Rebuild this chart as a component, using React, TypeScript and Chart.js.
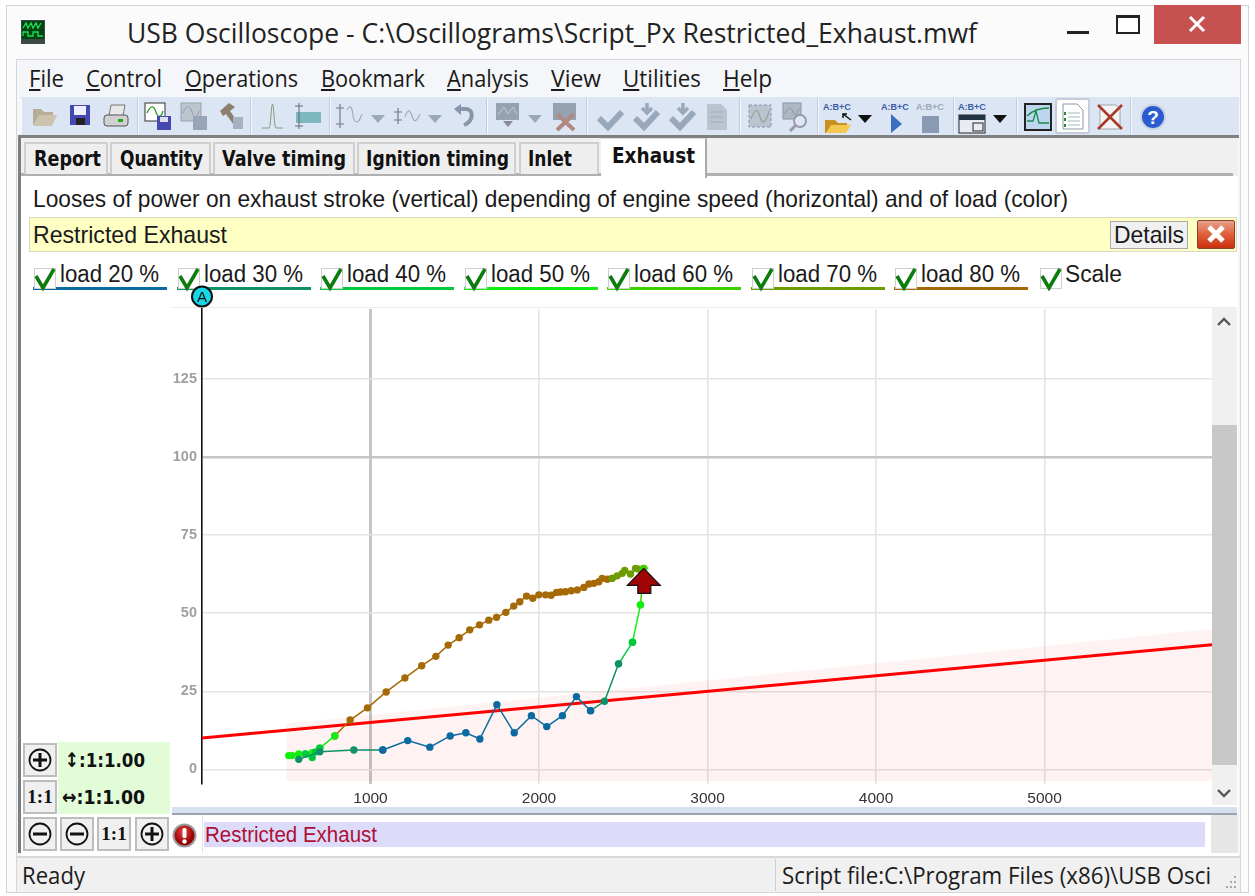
import React, { useEffect, useRef } from "react";
import { Chart, registerables } from "chart.js";

Chart.register(...registerables);

// ---------- data ----------
const seriesNames = ["load 20 %", "load 30 %", "load 40 %", "load 50 %", "load 60 %", "load 70 %", "load 80 %"];
const seriesColors = ["#0b6aa0", "#0f9068", "#00c93c", "#12ee12", "#3fd000", "#6c9c00", "#a56a06"];

const rpm20 = [1073, 1221, 1352, 1473, 1566, 1649, 1750, 1853, 1955, 2046, 2139, 2222, 2306];
const pow20 = [6.2, 9.2, 7.1, 10.7, 11.7, 9.7, 20.7, 11.7, 17.2, 13.7, 17.2, 23.3, 18.8];

const rpm30 = [574, 699, 901, 1073, 1073, 2306, 2389, 2472];
const pow30 = [3.2, 5.6, 6.2, 6.2, null, 18.8, 21.8, 33.8];

const rpm40 = [614, 654, 674, 699, 699, 2472, 2555];
const pow40 = [4.9, 3.8, 5.6, 6.8, null, 33.8, 40.7];

const rpm50 = [515, 535, 574, 614, 654, 654, 699, 788, 788, 2555, 2602];
const pow50 = [4.4, 4.4, 4.9, 4.9, 5.3, null, 6.8, 10.7, null, 40.7, 52.7];

const rpm60 = [2602, 2622];
const pow60 = [52.7, 64.4];

const rpm70 = [2434, 2464, 2494, 2509, 2543, 2573, 2592, 2622];
const pow70 = [61.2, 62, 62.8, 63.7, 62.6, 64.4, 64.1, 64.4];

const rpm80 = [788, 879, 982, 1093, 1204, 1304, 1388, 1461, 1526, 1589, 1647, 1702, 1748, 1803, 1850, 1886, 1926, 1963, 1999, 2039, 2072, 2104, 2128, 2157, 2191, 2227, 2266, 2296, 2325, 2355, 2375, 2405, 2434];
const pow80 = [10.7, 15.8, 19.7, 24.8, 29.3, 33.2, 36.2, 39.8, 42.2, 44.7, 46.3, 47.8, 48.7, 50.3, 52.3, 53.7, 55.5, 54.8, 55.9, 55.9, 55.8, 56.7, 56.8, 56.9, 57.2, 57.5, 58.3, 59.4, 59.6, 60.1, 61.2, 60.9, 61.2];

const scaleRpm = [0, 5994];
const scalePow = [10, 39.9];
const bandRpm = [500, 5994];
const bandTop = [14.7, 45];
const bandFloor = -3.7;

const peakRpm = 2622;
const peakPow = 64.4;

const xTicks = [1000, 2000, 3000, 4000, 5000];
const yTicks = [0, 25, 50, 75, 100, 125];
const strongX = 1000;
const strongY = 100;

const allRpm = [rpm20, rpm30, rpm40, rpm50, rpm60, rpm70, rpm80];
const allPow = [pow20, pow30, pow40, pow50, pow60, pow70, pow80];

const zip = (xs: number[], ys: (number | null)[]) => xs.map((x, i) => ({ x, y: ys[i] }));

// ---------- text helper ----------
const meas = document.createElement("canvas").getContext("2d")!;
const SEGOE = '"Open Sans", "Noto Sans", sans-serif';
const ARIAL = '"Liberation Sans", Arial, sans-serif';
const TAHOMA = '"DejaVu Sans", sans-serif';

function T({ x, cy, w, size, font = ARIAL, weight = 400, color = "#1a1a1a", text, ul = false }: any) {
  meas.font = `${weight} ${size}px ${font}`;
  const m = meas.measureText(text).width;
  const lh = Math.round(size * 1.3);
  return (
    <div
      style={{
        position: "absolute", left: x, top: cy - lh / 2, height: lh, lineHeight: `${lh}px`,
        fontFamily: font, fontSize: size, fontWeight: weight, color, whiteSpace: "pre",
        transformOrigin: "0 50%", transform: w ? `scaleX(${w / m})` : undefined,
      }}
    >
      {ul ? (<><u>{text[0]}</u>{text.slice(1)}</>) : text}
    </div>
  );
}

const Box = ({ x, y, w, h, bg, style }: any) => (
  <div style={{ position: "absolute", left: x, top: y, width: w, height: h, background: bg, boxSizing: "border-box", ...style }} />
);

const Svg = ({ x, y, w, h, children }: any) => (
  <svg style={{ position: "absolute", left: x, top: y }} width={w} height={h} viewBox={`0 0 ${w} ${h}`}>
    {children}
  </svg>
);

// ---------- toolbar icons ----------
const G = "#9aa8bb";
const Drop = ({ x, c = G }: any) => (
  <Svg x={x} y={113} w={16} h={11}><path d="M1 2 H15 L8 10 Z" fill={c} /></Svg>
);
const Sep = ({ x }: any) => <Box x={x} y={98} w={2} h={36} bg="#f5f8fc" style={{ borderLeft: "1px solid #c2cbd8" }} />;
const Tools = () => (
  <>
    <Box x={20} y={98} w={2} h={36} bg="#f5f8fc" />
    <Svg x={32} y={101} w={26} h={26}><path d="M1 8 H9 L12 11 H21 V14 H7 L2 24 H1 Z" fill="#b5ad98" /><path d="M7 14 H25 L20 25 H2 Z" fill="#cbc3ab" /></Svg>
    <Svg x={69} y={104} w={22} h={22}><rect x={1} y={1} width={20} height={20} fill="#4448b0" /><rect x={5} y={2} width={12} height={9} fill="#eef" /><rect x={7} y={14} width={9} height={7} fill="#222" /></Svg>
    <Svg x={103} y={104} w={26} h={24}><path d="M8 1 H22 L20 12 H6 Z" fill="#e8e8e8" stroke="#777" /><rect x={1} y={11} width={24} height={11} rx={3} fill="#d0d0d0" stroke="#555" /><rect x={15} y={15} width={5} height={3} fill="#2a2" /></Svg>
    <Sep x={137} />
    <Svg x={144} y={102} w={28} h={28}><rect x={1} y={1} width={20} height={18} fill="#fff" stroke="#333" /><path d="M3 11 C7 2 10 4 12 10 S17 16 19 9" stroke="#2a9a2a" fill="none" strokeWidth={1.3} /><rect x={13} y={14} width={14} height={14} fill="#4448b0" /><rect x={16} y={15} width={8} height={5} fill="#dde" /></Svg>
    <Svg x={180} y={102} w={28} h={28}><rect x={1} y={1} width={20} height={18} fill="#bcc5ce" stroke="#98a3b0" /><path d="M3 11 C7 2 10 4 12 10 S17 16 19 9" stroke="#99a" fill="none" /><rect x={13} y={14} width={14} height={14} fill="#98a5b6" /></Svg>
    <Svg x={218} y={102} w={26} h={28}><path d="M2 9 L11 1 L17 5 L12 9 L24 26 H18 L8 12 L5 14 Z" fill="#8d7f6e" /><rect x={15} y={15} width={10} height={12} fill="#a6b1c1" /></Svg>
    <Sep x={250} />
    <Svg x={261} y={103} w={24} h={26}><path d="M1 25 H8 C10 24 10 2 11.5 1 C13 2 13 24 15 25 H22" stroke="#7fa080" fill="none" strokeWidth={1} /></Svg>
    <Svg x={293} y={102} w={30} h={28}><rect x={3} y={10} width={25} height={11} fill="#7db8be" /><path d="M6 1 V27 M2 4 H10 M2 24 H10" stroke="#667" /></Svg>
    <Sep x={329} />
    <Svg x={335} y={102} w={28} h={28}><path d="M5 2 V26 M1 6 H9 M1 22 H9" stroke="#778" strokeWidth={1.2} /><path d="M12 8 C15 2 17 5 18 13 S23 24 27 12" stroke={G} fill="none" strokeWidth={1.1} /></Svg>
    <Drop x={370} />
    <Svg x={393} y={102} w={28} h={28}><path d="M5 6 V22 M1 10 H9 M1 18 H9" stroke="#778" strokeWidth={1.2} /><path d="M12 15 C15 6 17 8 19 14 S23 21 27 12" stroke={G} fill="none" strokeWidth={1.1} /></Svg>
    <Drop x={427} />
    <Svg x={453} y={104} w={22} h={24}><path d="M3 5 H13 C21 5 21 17 11 21" stroke="#8796aa" fill="none" strokeWidth={4} /><path d="M1 5 L8 0 V11 Z" fill="#8796aa" /></Svg>
    <Sep x={486} />
    <Svg x={495} y={102} w={26} h={28}><rect x={1} y={1} width={23} height={17} fill="#94a2b2" /><path d="M3 13 L9 5 L13 12 L18 5 L22 12" stroke="#c0ccd8" fill="none" /><path d="M8 19 H18 L13 25 Z" fill="#889" /></Svg>
    <Drop x={527} />
    <Svg x={552} y={102} w={26} h={30}><rect x={1} y={1} width={23} height={17} fill="#94a2b2" /><path d="M5 12 L22 28 M22 12 L5 28" stroke="#b08a82" strokeWidth={4} /></Svg>
    <Sep x={586} />
    {[597, 633, 669].map((x, i) => (
      <Svg key={x} x={x} y={103} w={28} h={28}>
        {i > 0 && <path d="M14 0 L14 9 M9 5 L14 10 L19 5" stroke={G} strokeWidth={3.5} fill="none" />}
        <path d="M2 15 L11 24 L25 9" stroke={G} strokeWidth={6} fill="none" />
      </Svg>
    ))}
    <Svg x={706} y={103} w={22} h={28}><path d="M1 1 H15 L21 7 V27 H1 Z" fill="#bac3ce" /><path d="M4 9 H17 M4 14 H17 M4 19 H17" stroke="#a2adba" /></Svg>
    <Sep x={739} />
    <Svg x={747} y={103} w={26} h={26}><rect x={2} y={2} width={22} height={22} fill="#bac3ce" stroke="#8a96a6" strokeDasharray="3 2" /><path d="M4 16 C8 4 11 6 13 14 S19 20 22 8" stroke="#8aa492" fill="none" strokeWidth={1.1} /></Svg>
    <Svg x={782} y={102} w={28} h={30}><rect x={1} y={1} width={18} height={16} fill="#aeb8c5" stroke="#8a96a6" /><path d="M3 12 C6 4 9 4 11 10 S15 12 17 6" stroke="#899" fill="none" /><circle cx={18} cy={19} r={6} fill="#dfe7f2" stroke="#99a" strokeWidth={2} /><path d="M14 23 L8 29" stroke="#99a" strokeWidth={3} /></Svg>
    <Sep x={817} />
    <Svg x={823} y={100} w={30} h={34}>
      <text x={0} y={10} fontSize={9} fontWeight={700} fill="#3a5ba8" fontFamily={ARIAL}>A:B+C</text>
      <path d="M2 20 H12 L15 23 H24 V27 H8 L3 33 H2 Z" fill="#c89020" /><path d="M8 25 H28 L23 33 H3 Z" fill="#f2c850" /><path d="M20 14 L28 20 M24 14 H20 V18" stroke="#111" strokeWidth={1.5} fill="none" />
    </Svg>
    <Drop x={857} c="#111" />
    <Svg x={881} y={100} w={30} h={34}><text x={0} y={10} fontSize={9} fontWeight={700} fill="#3a5ba8" fontFamily={ARIAL}>A:B+C</text><path d="M10 14 L21 24 L10 33 Z" fill="#3a6fc0" /></Svg>
    <Svg x={916} y={100} w={30} h={34}><text x={0} y={10} fontSize={9} fontWeight={700} fill="#9aa8bc" fontFamily={ARIAL}>A:B+C</text><rect x={6} y={16} width={17} height={17} fill="#8a9ab2" /></Svg>
    <Sep x={953} />
    <Svg x={958} y={100} w={30} h={34}><text x={0} y={10} fontSize={9} fontWeight={700} fill="#3a5ba8" fontFamily={ARIAL}>A:B+C</text><rect x={1} y={15} width={26} height={18} fill="#e8ecf2" stroke="#223" /><rect x={1} y={15} width={26} height={5} fill="#234" /><rect x={15} y={23} width={10} height={8} fill="none" stroke="#222" /></Svg>
    <Drop x={992} c="#111" />
    <Sep x={1016} />
    <Svg x={1024} y={103} w={28} h={28}><rect x={1} y={1} width={26} height={26} fill="#bcd6ee" stroke="#222" strokeWidth={2} /><path d="M3 18 H9 L12 8 L15 20 H25 M3 13 C8 8 14 5 25 5" stroke="#1a8a4a" fill="none" strokeWidth={1.3} /></Svg>
    <Box x={1055} y={98} w={35} h={36} bg="#fff" style={{ border: "2px solid #c4cdd9", borderRadius: 3 }} />
    <Svg x={1062} y={103} w={24} h={28}><path d="M1 1 H15 L21 7 V26 H1 Z" fill="#fff" stroke="#8a98a8" /><path d="M6 10 H18 M6 14 H18 M6 18 H18 M6 22 H18" stroke="#9bb" /><path d="M3 9 V12 M3 15 V18 M3 21 V24" stroke="#2a8a2a" strokeWidth={2} /></Svg>
    <Svg x={1096} y={103} w={28} h={28}><path d="M4 2 H20 L24 6 V26 H4 Z" fill="#f4f4f4" stroke="#9aa" /><path d="M2 2 L26 26 M26 2 L2 26" stroke="#a8382a" strokeWidth={2.5} /></Svg>
    <Sep x={1130} />
    <Svg x={1140} y={104} w={26} h={26}><circle cx={13} cy={13} r={12} fill="#2a5cd0" stroke="#c8d2e0" strokeWidth={2} /><text x={13} y={20} fontSize={19} fontWeight={700} textAnchor="middle" fill="#fff" fontFamily={ARIAL}>?</text></Svg>
  </>
);

// ---------- other chrome ----------
const tabs = [
  ["Report", 24, 84, 34, 67], ["Quantity", 110, 101, 120, 83], ["Valve timing", 213, 142, 222, 124],
  ["Ignition timing", 357, 159, 366, 143], ["Inlet", 519, 80, 528, 44],
] as const;
const menu = [
  ["File", 29, 35], ["Control", 86, 76], ["Operations", 185, 113], ["Bookmark", 321, 104],
  ["Analysis", 447, 82], ["View", 551, 50], ["Utilities", 623, 78], ["Help", 723, 49],
] as const;
const legendX = [33, 177, 320, 464, 607, 751, 894];

const Check = ({ x }: any) => (
  <>
    <Box x={x + 1} y={268} w={22} h={21} bg="#fff" style={{ border: "1px solid #cfcfcf" }} />
    <Svg x={x} y={266} w={26} h={26}>
      <path d="M3 10 L10 22 L21 3" stroke="#0c7d0c" strokeWidth={3.6} fill="none" />
    </Svg>
  </>
);

const Btn = ({ x, y, kind }: any) => (
  <div style={{ position: "absolute", left: x, top: y, width: 34, height: 34, boxSizing: "border-box", background: "#f0f0f0", border: "2px solid #bdbdbd" }}>
    {kind === "1:1" ? (
      <div style={{ fontFamily: '"Liberation Serif", serif', fontWeight: 700, fontSize: 19, textAlign: "center", lineHeight: "30px", color: "#111" }}>1:1</div>
    ) : (
      <svg width={30} height={30} style={{ display: "block" }}>
        <circle cx={15} cy={15} r={10.5} fill="none" stroke="#111" strokeWidth={1.8} />
        <path d={kind === "+" ? "M8 15 H22 M15 8 V22" : "M8 15 H22"} stroke="#111" strokeWidth={3} />
      </svg>
    )}
  </div>
);

// ---------- chart plugin: peak arrow ----------
const peakArrow = {
  id: "peakArrow",
  afterDatasetsDraw(chart: any) {
    const { x, y } = chart.scales;
    const px = x.getPixelForValue(peakRpm);
    const py = y.getPixelForValue(peakPow);
    const c = chart.ctx;
    c.save();
    c.beginPath();
    c.moveTo(px, py);
    c.lineTo(px + 16.5, py + 17);
    c.lineTo(px + 7, py + 17);
    c.lineTo(px + 7, py + 25);
    c.lineTo(px - 6, py + 25);
    c.lineTo(px - 6, py + 17);
    c.lineTo(px - 16.5, py + 17);
    c.closePath();
    c.fillStyle = "#a00404";
    c.strokeStyle = "#111";
    c.lineWidth = 1.2;
    c.fill();
    c.stroke();
    c.restore();
  },
};

export default function App() {
  const ref = useRef<HTMLCanvasElement>(null);
  useEffect(() => {
    document.body.style.margin = "0";
    document.body.style.overflow = "hidden";
    document.body.style.background = "#fff";
    const chart = new Chart(ref.current!, {
      type: "line",
      plugins: [peakArrow],
      data: {
        datasets: [
          ...seriesNames.map((label, i) => ({
            label,
            data: zip(allRpm[i], allPow[i]) as any,
            borderColor: seriesColors[i],
            backgroundColor: seriesColors[i],
            borderWidth: 1.5,
            pointRadius: 3.7,
            pointBorderWidth: 0,
            pointBackgroundColor: seriesColors[i],
            spanGaps: false,
            fill: false,
          })),
          {
            label: "Scale",
            data: zip(scaleRpm, scalePow) as any,
            borderColor: "#ff0000",
            borderWidth: 3,
            pointRadius: 0,
            fill: false,
          },
          {
            label: "Scale band",
            data: zip(bandRpm, bandTop) as any,
            borderWidth: 0,
            pointRadius: 0,
            backgroundColor: "rgba(255,0,0,0.05)",
            fill: { value: bandFloor },
          },
        ],
      },
      options: {
        animation: false,
        responsive: false,
        events: [],
        layout: { padding: { left: 0, top: 309, right: 43, bottom: 0 } },
        plugins: { legend: { display: false }, tooltip: { enabled: false } },
        scales: {
          x: {
            type: "linear",
            min: 0,
            max: 5994,
            afterBuildTicks: (s: any) => { s.ticks = xTicks.map((value) => ({ value })); },
            afterFit: (s: any) => { s.height = 112; },
            grid: {
              drawTicks: false,
              color: (c: any) => (c.tick?.value === strongX ? "#c6c6c6" : "#e4e4e4"),
              lineWidth: (c: any) => (c.tick?.value === strongX ? 3 : 1.6),
            },
            border: { display: false },
            ticks: { padding: 5, maxRotation: 0, autoSkip: false, color: "#333", font: { family: ARIAL, size: 15.5 }, callback: (v: any) => String(v) },
          },
          y: {
            type: "linear",
            min: -4.7,
            max: 147.5,
            afterBuildTicks: (s: any) => { s.ticks = yTicks.map((value) => ({ value })); },
            afterFit: (s: any) => { s.width = 202; },
            grid: {
              drawTicks: false,
              color: (c: any) => (c.tick?.value === strongY ? "#c6c6c6" : "#e4e4e4"),
              lineWidth: (c: any) => (c.tick?.value === strongY ? 2.4 : 1.6),
            },
            border: { display: true, color: "#111", width: 1.6 },
            ticks: { padding: 5, autoSkip: false, color: "#a0a0a0", font: { family: ARIAL, size: 14.5, weight: "bold" }, callback: (v: any) => String(v) },
          },
        },
      } as any,
    });
    return () => chart.destroy();
  }, []);

  return (
    <div style={{ position: "relative", width: 1255, height: 896, overflow: "hidden", background: "#fff", filter: "blur(0.5px)" }}>
      {/* window frame */}
      <Box x={6} y={5} w={1243} h={888} bg="#fbfbfb" style={{ border: "1px solid #d4d4d4" }} />
      <Svg x={21} y={20} w={24} h={24}>
        <rect width={24} height={24} fill="#3c4a46" />
        <rect x={1} y={1} width={22} height={18} fill="#041" />
        <path d="M2 8 L5 3 L7 8 L10 3 L12 8 L15 3 L17 8 L20 3 M2 16 V12 H7 V16 H12 V12 H17 V16 H22" stroke="#1ee05a" fill="none" strokeWidth={1.3} />
      </Svg>
      <T x={127} cy={32.5} w={850} size={27} font={SEGOE} color="#222" text="USB Oscilloscope - C:\Oscillograms\Script_Px Restricted_Exhaust.mwf" />
      <Box x={1067} y={31} w={22} h={3} bg="#222" />
      <Box x={1116} y={15} w={24} h={19} bg="#fff" style={{ border: "2px solid #222", borderTopWidth: 3 }} />
      <Box x={1154} y={5} w={87} h={39} bg="#c75050" />
      <Svg x={1188} y={15} w={18} h={18}><path d="M2 2 L16 16 M16 2 L2 16" stroke="#fff" strokeWidth={3} /></Svg>

      {/* menu */}
      <Box x={16} y={59} w={1225} h={834} bg="#f4f6f9" style={{ border: "1px solid #d6d6d6" }} />
      {menu.map(([t, x, w]) => <T key={t} x={x} cy={78} w={w} size={23} font={SEGOE} color="#1a1a1a" text={t} ul />)}

      {/* toolbar */}
      <Box x={20} y={97} w={1219} h={39} bg="#dbe5f3" />
      <Tools />
      <Box x={19} y={135} w={1220} h={3} bg="#808080" />

      {/* tab strip + white client */}
      <Box x={21} y={138} w={1217} h={38} bg="#f0f0f0" />
      <Box x={21} y={176} w={1217} h={680} bg="#fff" />
      <Box x={18} y={135} w={3} h={718} bg="#7d7d7d" />
      <Box x={21} y={173} w={1212} h={3} bg="#b0b0b0" />
      {tabs.map(([t, x, w, tx, tw]) => (
        <React.Fragment key={t}>
          <Box x={x} y={142} w={w} h={32} bg="#eeeeee" style={{ border: "2px solid #cfcfcf", borderBottom: "none" }} />
          <T x={tx} cy={159.5} w={tw} size={21} font={TAHOMA} weight={700} color="#111" text={t} />
        </React.Fragment>
      ))}
      <Box x={601} y={138} w={106} h={40} bg="#fff" style={{ borderRight: "2px solid #aaa", borderTop: "1px solid #ddd" }} />
      <T x={612} cy={156} w={83} size={21} font={TAHOMA} weight={700} color="#111" text="Exhaust" />

      <T x={33} cy={198} w={1035} size={24} text="Looses of power on exhaust stroke (vertical) depending of engine speed (horizontal) and of load (color)" />

      {/* yellow bar */}
      <Box x={29} y={217} w={1208} h={35} bg="#ffffc4" style={{ border: "1px solid #d8d8c4" }} />
      <T x={33} cy={234} w={194} size={24} text="Restricted Exhaust" />
      <Box x={1110} y={221} w={78} h={28} bg="#f0f0f0" style={{ border: "1px solid #aaa" }} />
      <T x={1114} cy={234} w={70} size={24} text="Details" />
      <Box x={1197} y={220} w={38} h={29} style={{ border: "1px solid #8a4030", borderRadius: 2, background: "linear-gradient(#e8a090, #e0603c 50%, #c83010)" }} />
      <Svg x={1205} y={223} w={22} h={22}><path d="M4 4 L18 18 M18 4 L4 18" stroke="#fff" strokeWidth={5} /></Svg>

      {/* legend */}
      {seriesNames.map((n, i) => (
        <React.Fragment key={n}>
          <Box x={legendX[i]} y={287} w={134} h={3} bg={seriesColors[i]} />
          <Check x={legendX[i]} />
          <T x={legendX[i] + 27} cy={274} w={99} size={23} text={n} />
        </React.Fragment>
      ))}
      <Check x={1039} />
      <T x={1065} cy={274} w={57} size={23} text="Scale" />

      {/* plot surround */}
      <Box x={172} y={307} w={1064} h={1} bg="#ececec" />
      <Box x={1212} y={308} w={25} h={497} bg="#f0f0f0" />
      <Box x={1212} y={425} w={25} h={340} bg="#c8c8c8" />
      <Svg x={1216} y={316} w={16} h={12}><path d="M2 9 L8 3 L14 9" stroke="#555" strokeWidth={2.4} fill="none" /></Svg>
      <Svg x={1216} y={787} w={16} h={12}><path d="M2 3 L8 9 L14 3" stroke="#555" strokeWidth={2.4} fill="none" /></Svg>
      <Box x={172} y={807} w={1065} h={8} bg="#d6e0f0" style={{ borderBottom: "2px solid #9aa2ac" }} />

      {/* left zoom panel */}
      <Box x={58} y={742} w={112} h={72} bg="#e2fcd8" />
      <Btn x={23} y={743} kind="+" />
      <Btn x={23} y={780} kind="1:1" />
      <Btn x={23} y={817} kind="-" />
      <Btn x={60} y={817} kind="-" />
      <Btn x={97} y={817} kind="1:1" />
      <Btn x={135} y={817} kind="+" />
      <T x={65} cy={760} w={80} size={20} font={TAHOMA} weight={700} color="#111" text="↕:1:1.00" />
      <T x={62} cy={797} w={83} size={20} font={TAHOMA} weight={700} color="#111" text="↔:1:1.00" />

      {/* message strip */}
      <Svg x={172} y={823} w={25} h={25}>
        <defs><radialGradient id="rg" cx="45%" cy="35%"><stop offset="0" stopColor="#f04040" /><stop offset="1" stopColor="#900000" /></radialGradient></defs>
        <circle cx={12.5} cy={12.5} r={11} fill="url(#rg)" stroke="#9a9a9a" strokeWidth={2} />
        <rect x={10.5} y={5} width={4} height={10} fill="#fff" rx={1.5} />
        <circle cx={12.5} cy={18.5} r={2.2} fill="#fff" />
      </Svg>
      <Box x={202} y={815} w={1} h={38} bg="#e4e4e4" />
      <Box x={204} y={822} w={1001} h={25} bg="#dcdcfa" />
      <T x={205} cy={834} w={172} size={22} color="#ad1035" text="Restricted Exhaust" />
      <Box x={1211} y={815} w={27} h={38} bg="#e6e6e6" />

      {/* status bar */}
      <Box x={17} y={856} w={1223} h={36} bg="#f0f0f0" style={{ borderTop: "2px solid #d8d8d8" }} />
      <T x={22} cy={875} w={63} size={23} font={SEGOE} color="#1c1c1c" text="Ready" />
      <Box x={775} y={859} w={1} h={32} bg="#cfcfcf" />
      <T x={782} cy={875} w={429} size={23} font={SEGOE} color="#1c1c1c" text="Script file:C:\Program Files (x86)\USB Osci" />
      <Svg x={1224} y={874} w={14} h={15}>
        <path d="M10 2 h2 v2 h-2z M6 7 h2 v2 h-2z M10 7 h2 v2 h-2z M2 12 h2 v2 h-2z M6 12 h2 v2 h-2z M10 12 h2 v2 h-2z" fill="#a8a8a8" />
      </Svg>

      {/* chart */}
      <canvas ref={ref} width={1255} height={896} style={{ position: "absolute", left: 0, top: 0, width: 1255, height: 896 }} />

      {/* cursor A marker */}
      <Svg x={190} y={285} w={24} h={24}>
        <circle cx={12} cy={11.5} r={10} fill="#17d6e6" stroke="#111" strokeWidth={2} />
        <text x={12} y={17} textAnchor="middle" fontSize={15} fontFamily={ARIAL} fill="#111">A</text>
      </Svg>
    </div>
  );
}
